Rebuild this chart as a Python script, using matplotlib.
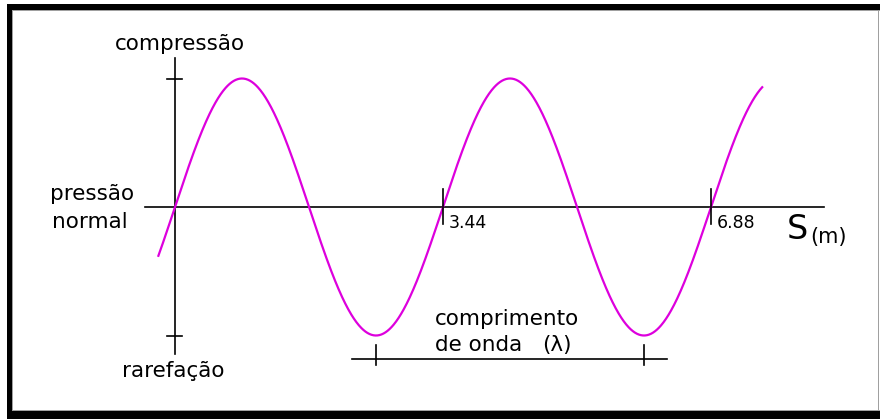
import numpy as np
import matplotlib
matplotlib.use("Agg")
import matplotlib.pyplot as plt
from matplotlib.patches import Rectangle

# ---- data ----
wavelength = 3.44                      # m
amplitude = 1.0                        # relative pressure amplitude
s_start, s_end = -0.218, 7.547         # extent of the drawn wave (m)
tick_values = [3.44, 6.88]
tick_labels = ["3.44", "6.88"]
y_labels = ["compressão", "pressão\nnormal", "rarefação"]

# ---- layout (pixel <-> data mapping) ----
W, H = 880, 419
PX_PER_M = 268 / 3.44
PX_PER_AMP = 128.5
X0_PX, Y0_PX = 175, 207

def dx(px):
    return (px - X0_PX) / PX_PER_M

def dy(py):
    return (Y0_PX - py) / PX_PER_AMP

fig = plt.figure(figsize=(W / 100, H / 100), dpi=100)
fig.patch.set_facecolor("white")
ax = fig.add_axes([0, 0, 1, 1])
ax.set_xlim(dx(0), dx(W))
ax.set_ylim(dy(H), dy(0))
ax.axis("off")

font = "DejaVu Sans"
k = "black"
lw_axis = 1.2

# wave
s = np.linspace(s_start, s_end, 1200)
p = amplitude * np.sin(2 * np.pi * s / wavelength)
ax.plot(s, p, color="#dd00dd", lw=1.6, solid_capstyle="butt", zorder=3)

# horizontal axis
ax.plot([dx(145), dx(824)], [0, 0], color=k, lw=lw_axis, zorder=2)
# vertical axis
ax.plot([0, 0], [dy(58), dy(354)], color=k, lw=lw_axis, zorder=2)
# amplitude ticks on vertical axis
for a in (amplitude, -amplitude):
    ax.plot([dx(167), dx(182)], [a, a], color=k, lw=lw_axis, zorder=2)

# x ticks and labels
for v, lab in zip(tick_values, tick_labels):
    ax.plot([v, v], [dy(189), dy(224)], color=k, lw=lw_axis, zorder=4)
    ax.text(v + dx(448) - dx(442), dy(228), lab, fontsize=12.5, family=font,
            ha="left", va="baseline", color=k)

# axis title S(m)
ax.text(dx(787), dy(239), "S", fontsize=24, family=font, ha="left", va="baseline")
ax.text(dx(810), dy(243), "(m)", fontsize=15, family=font, ha="left", va="baseline")

# y-side labels
ax.text(dx(115), dy(50), y_labels[0], fontsize=15.5, family=font, ha="left", va="baseline")
top, bottom = y_labels[1].split("\n")
ax.text(dx(50), dy(200), top, fontsize=15.5, family=font, ha="left", va="baseline")
ax.text(dx(52), dy(228), bottom, fontsize=15.5, family=font, ha="left", va="baseline")
ax.text(dx(122), dy(377), y_labels[2], fontsize=15.5, family=font, ha="left", va="baseline")

# wavelength bracket between two troughs
t1 = 0.75 * wavelength
t2 = t1 + wavelength
ax.plot([dx(352), dx(667)], [dy(359), dy(359)], color=k, lw=lw_axis)
for t in (t1, t2):
    ax.plot([t, t], [dy(345), dy(365)], color=k, lw=lw_axis)
ax.text(dx(435), dy(325), "comprimento", fontsize=15.5, family=font, ha="left", va="baseline")
ax.text(dx(435), dy(351), "de onda", fontsize=15.5, family=font, ha="left", va="baseline")
ax.text(dx(542), dy(351), "(λ)", fontsize=15.5, family=font, ha="left", va="baseline")

# frame
def frect(x, y, w, h, c):
    fig.patches.append(Rectangle((x / W, 1 - (y + h) / H), w / W, h / H,
                                 transform=fig.transFigure, color=c, lw=0, zorder=10))

frect(7, 4, W - 7, 6, "black")      # top
frect(7, 4, 5, H - 4, "black")      # left
frect(7, 411, W - 7, 8, "black")    # bottom
frect(12, 10, W - 12, 1, "#a0a0a0")
frect(12, 10, 1, 400, "#a0a0a0")
frect(12, 410, W - 12, 1, "#a0a0a0")
frect(878, 10, 1, 401, "#a0a0a0")

fig.savefig("out.png", dpi=100, facecolor="white")
